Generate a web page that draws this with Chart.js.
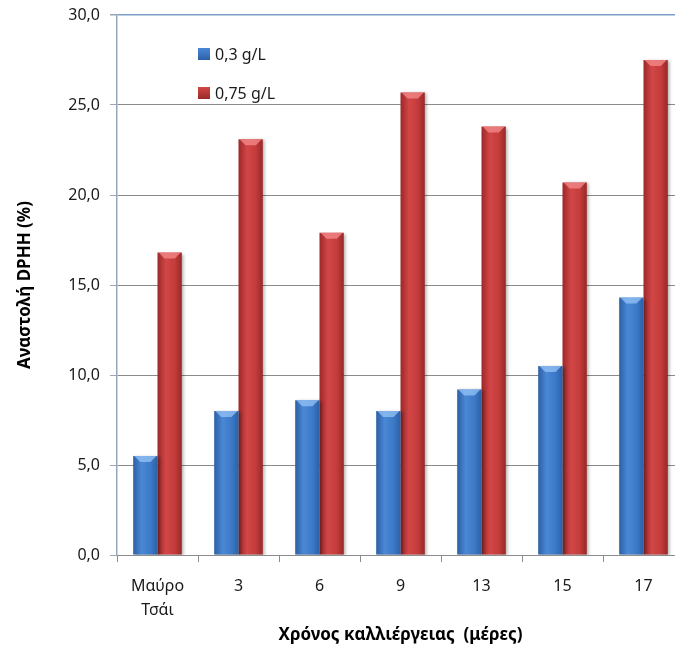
<!DOCTYPE html>
<html><head><meta charset="utf-8">
<script src="https://cdn.jsdelivr.net/npm/chart.js@4.4.1/dist/chart.umd.min.js"></script>
<style>
html,body{margin:0;padding:0;overflow:hidden;background:#fff;width:675px;height:648px}
#wrap{position:relative;width:690px;height:648px}
</style></head>
<body><div id="wrap"><canvas id="c" width="690" height="648"></canvas></div>
<script>
const categories = [["Μαύρο","Τσάι"], "3", "6", "9", "13", "15", "17"];
const seriesNames = ["0,3 g/L", "0,75 g/L"];
const values03 = [5.5, 8.0, 8.6, 8.0, 9.2, 10.5, 14.3];
const values075 = [16.8, 23.1, 17.9, 25.7, 23.8, 20.7, 27.5];
const yTickValues = [0, 5, 10, 15, 20, 25, 30];
const xTitle = "Χρόνος καλλιέργειας  (μέρες)";
const yTitle = "Αναστολή DPHH (%)";

const FONT = "'Noto Sans', 'DejaVu Sans', sans-serif";
const looks = [
  {stops: ['#2c5fa4', '#4a88d6', '#3c7ac8', '#2d60a6'], cap: 'rgba(150,195,245,0.75)', solid: '#3c7bc9'},
  {stops: ['#9c2829', '#d24646', '#c43c3c', '#9a2828'], cap: 'rgba(245,140,140,0.75)', solid: '#c63c3c'}
];

const barLook = {
  id: 'barLook',
  beforeDatasetsDraw(chart) {
    const ctx = chart.ctx;
    chart.data.datasets.forEach((ds, i) => {
      const meta = chart.getDatasetMeta(i);
      meta.data.forEach(el => {
        const l = el.x - el.width / 2, r = el.x + el.width / 2;
        const g = ctx.createLinearGradient(l, 0, r, 0);
        const s = looks[i].stops;
        g.addColorStop(0, s[0]); g.addColorStop(0.35, s[1]); g.addColorStop(0.7, s[2]); g.addColorStop(1, s[3]);
        el.options = Object.assign({}, el.options, {backgroundColor: g});
      });
    });
    ctx.save();
    ctx.shadowColor = 'rgba(0,0,0,0.3)';
    ctx.shadowBlur = 3;
    ctx.shadowOffsetX = 2;
    ctx.shadowOffsetY = 1;
  },
  afterDatasetsDraw(chart) {
    const ctx = chart.ctx;
    ctx.restore();
    chart.data.datasets.forEach((ds, i) => {
      const meta = chart.getDatasetMeta(i);
      meta.data.forEach(el => {
        const l = el.x - el.width / 2, r = el.x + el.width / 2, t = el.y;
        ctx.save();
        ctx.fillStyle = looks[i].cap;
        ctx.beginPath();
        ctx.moveTo(l + 1, t); ctx.lineTo(r - 1, t);
        ctx.lineTo(r - 7, t + 6); ctx.lineTo(l + 7, t + 6);
        ctx.closePath(); ctx.fill();
        ctx.restore();
      });
    });
  },
  afterDraw(chart) {
    const ctx = chart.ctx, ca = chart.chartArea;
    ctx.save();
    ctx.font = "16px " + FONT;
    ctx.textBaseline = 'middle';
    chart.data.datasets.forEach((ds, i) => {
      const x = ca.left + 81, y = ca.top + 39 + i * 39;
      const g = ctx.createLinearGradient(x, y - 6, x, y + 6);
      g.addColorStop(0, looks[i].stops[1]); g.addColorStop(1, looks[i].stops[3]);
      ctx.fillStyle = g;
      ctx.fillRect(x, y - 6, 12, 12);
      ctx.fillStyle = '#1a1a1a';
      ctx.fillText(ds.label, x + 17, y + 1);
    });
    ctx.restore();
  }
};

new Chart(document.getElementById('c'), {
  type: 'bar',
  data: {
    labels: categories,
    datasets: [
      {label: seriesNames[0], data: values03, backgroundColor: looks[0].solid, borderWidth: 0},
      {label: seriesNames[1], data: values075, backgroundColor: looks[1].solid, borderWidth: 0}
    ]
  },
  options: {
    responsive: false,
    devicePixelRatio: 1,
    animation: false,
    events: [],
    categoryPercentage: 0.6,
    barPercentage: 1.0,
    layout: {padding: {top: 15, left: 0, right: 6, bottom: 0}},
    plugins: {legend: {display: false}, tooltip: {enabled: false}},
    scales: {
      x: {
        afterFit(scale) { scale.height = 93; },
        grid: {drawOnChartArea: false, tickLength: 7, tickColor: '#8c8c8c', offset: true},
        border: {color: '#8c8c8c', width: 1},
        ticks: {color: '#1a1a1a', padding: 12, font: {family: FONT, size: 16, lineHeight: 1.5}, maxRotation: 0, autoSkip: false},
        title: {display: true, text: xTitle, color: '#000', font: {family: FONT, size: 17, weight: 'bold'}, padding: {top: 0, bottom: 3}}
      },
      y: {
        min: 0, max: 30,
        afterFit(scale) { scale.width = 117; scale.paddingTop = 0; scale.paddingBottom = 0; },
        afterBuildTicks(scale) { scale.ticks = yTickValues.map(v => ({value: v})); },
        grid: {
          color: c => (c.tick && c.tick.value === 30) ? '#7f9ec9' : '#8a8a8a',
          lineWidth: c => (c.tick && c.tick.value === 30) ? 1.5 : 1,
          tickLength: 7, tickColor: '#98a6ba'
        },
        border: {color: '#98a6ba', width: 1.5},
        ticks: {color: '#1a1a1a', padding: 10, font: {family: FONT, size: 16}, callback: v => v.toFixed(1).replace('.', ',')},
        title: {display: true, text: yTitle, color: '#000', font: {family: FONT, size: 17, weight: 'bold'}, padding: {top: 15, bottom: 0}}
      }
    }
  },
  plugins: [barLook]
});
</script>
</body></html>
